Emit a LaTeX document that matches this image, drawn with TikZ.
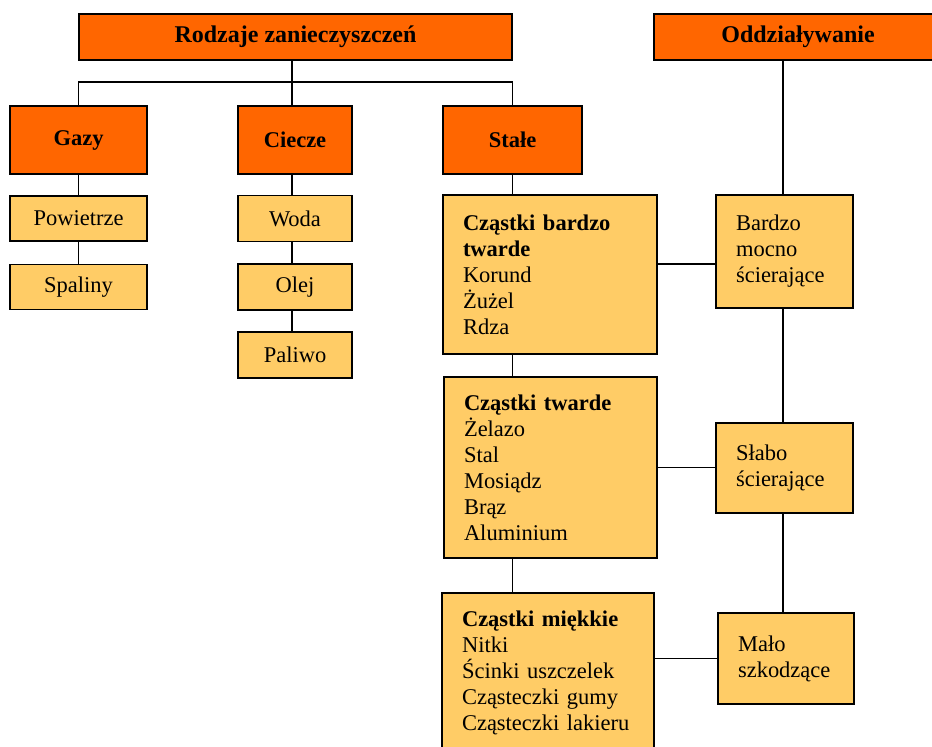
\documentclass[tikz,border=0pt]{standalone}
\usepackage{fontspec}
\setmainfont{Liberation Serif}
\definecolor{pomar}{HTML}{FF6600}
\definecolor{zolty}{HTML}{FFCC66}

\begin{document}
\begin{tikzpicture}[x=1pt, y=-1pt,
    H/.style = {rectangle, draw, fill=pomar, line width=1.6pt,% styles of header nodes
                font=\rmfamily\fontsize{22.5}{26}\selectfont\bfseries,
                inner sep=0pt, outer sep=0pt},
    K/.style = {rectangle, draw, fill=zolty, line width=1.6pt,% styles of small boxes
                font=\rmfamily\fontsize{22.5}{26}\selectfont,
                inner sep=0pt, outer sep=0pt},
    L/.style = {K, align=left, inner xsep=20pt},% boxes with lists
    E/.style = {line width=1.2pt},
                        ]
\useasboundingbox (0,0) rectangle (932,747);
\clip (0,0) rectangle (932,747);
% headers
\node[H, font=\rmfamily\fontsize{24}{26}\selectfont\bfseries,
      minimum width=433pt, minimum height=46pt] (tyt) at (295.5,37) {Rodzaje zanieczyszczeń};
\node[H, font=\rmfamily\fontsize{24}{26}\selectfont\bfseries,
      minimum width=288pt, minimum height=46pt] (odd) at (798,37) {Oddziaływanie};
\node[H, minimum width=137pt, minimum height=68pt] (gaz) at (78.5,140) {Gazy};
\node[H, minimum width=114pt, minimum height=68pt] (cie) at (295,140) {Ciecze};
\node[H, minimum width=139pt, minimum height=68pt] (sta) at (512.5,140) {Stałe};
% gases and liquids
\foreach \n/\t/\y in {pow/Powietrze/218.5, spa/Spaliny/287}% <-- content of nodes
    \node[K, minimum width=137pt, minimum height=45pt] (\n) at (78.5,\y) {\t};
\foreach \n/\t/\y in {wod/Woda/218.5, ole/Olej/287, pal/Paliwo/355}% <-- content of nodes
    \node[K, minimum width=114pt, minimum height=46pt] (\n) at (295,\y) {\t};
% solids
\node[L, text width=174pt, minimum height=159pt] (btw) at (550,274.5)
    {\textbf{Cząstki bardzo}\\ \textbf{twarde}\\ Korund\\ Żużel\\ Rdza};
\node[L, text width=173pt, minimum height=181pt] (tw) at (550.5,467.5)
    {\textbf{Cząstki twarde}\\ Żelazo\\ Stal\\ Mosiądz\\ Brąz\\ Aluminium};
\node[L, text width=172pt, minimum height=159pt] (mk) at (548,672.5)
    {\textbf{Cząstki miękkie}\\ Nitki\\ Ścinki uszczelek\\ Cząsteczki gumy\\ Cząsteczki lakieru};
% effects
\node[L, text width=97pt, minimum height=113pt] (bm) at (784.5,251.5) {Bardzo\\ mocno\\ ścierające};
\node[L, text width=97pt, minimum height=90pt] (sl) at (784.5,468) {Słabo\\ ścierające};
\node[L, text width=96pt, minimum height=91pt] (ml) at (786,658.5) {Mało\\ szkodzące};
% connectors
\coordinate (R) at (292,82);
\coordinate (P) at (783,0);
\coordinate (Q) at (0,264);
\draw[E] (R |- tyt.south) -- (R |- cie.north);
\draw[E] (gaz.north) |- (R) -| (sta.north);
\draw[E] (gaz) -- (pow);
\draw[E] (pow) -- (spa);
\draw[E] (R |- cie.south) -- (R |- wod.north);
\draw[E] (R |- wod.south) -- (R |- ole.north);
\draw[E] (R |- ole.south) -- (R |- pal.north);
\draw[E] (sta.south) -- (sta.south |- btw.north);
\draw[E] (btw.south -| sta) -- (tw.north -| sta);
\draw[E] (tw.south -| sta) -- (mk.north -| sta);
\draw[E] (odd.south -| P) -- (bm.north -| P);
\draw[E] (bm.south -| P) -- (sl.north -| P);
\draw[E] (sl.south -| P) -- (ml.north -| P);
\draw[E] (btw.east |- Q) -- (bm.west |- Q);
\draw[E] (tw.east) -- (tw.east -| sl.west);
\draw[E] (mk.east |- ml) -- (ml.west);
\end{tikzpicture}
\end{document}
